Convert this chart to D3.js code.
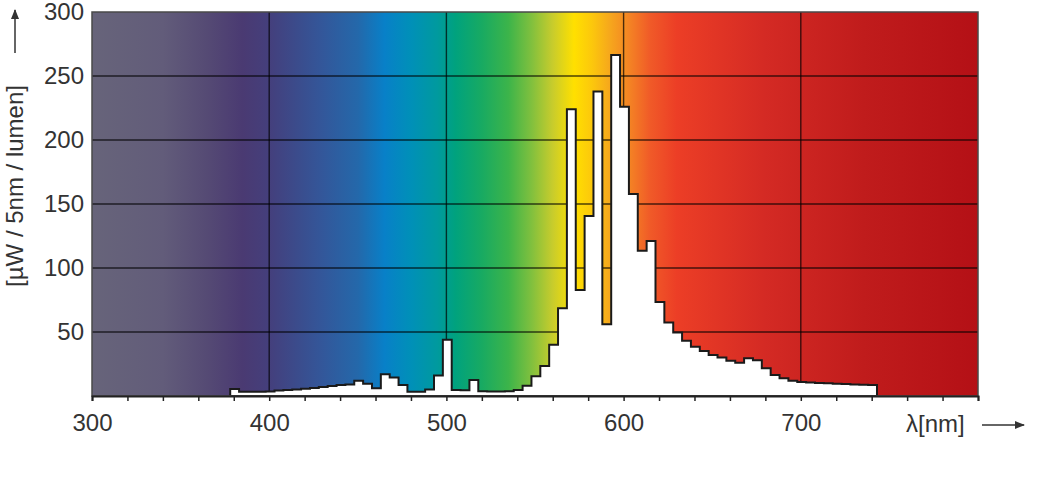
<!DOCTYPE html>
<html>
<head>
<meta charset="utf-8">
<script src="https://cdn.jsdelivr.net/npm/d3@7"></script>
<style>
  body { margin: 0; background: #fff; }
  text { font-family: "Liberation Sans", Arial, sans-serif; fill: #333; }
</style>
</head>
<body>
<div id="content"></div>
<script>
// 5 nm bins, start wavelength of each bin
let binStart = [378, 383, 388, 393, 398, 403, 408, 413, 418, 423,
                428, 433, 438, 443, 448, 453, 458, 463, 468, 473,
                478, 483, 488, 493, 498, 503, 508, 513, 518, 523,
                528, 533, 538, 543, 548, 553, 558, 563, 568, 573,
                578, 583, 588, 593, 598, 603, 608, 613, 618, 623,
                628, 633, 638, 643, 648, 653, 658, 663, 668, 673,
                678, 683, 688, 693, 698, 703, 708, 713, 718, 723,
                728, 733, 738];
let binWidth = 5;

// µW / 5nm / lumen
let power = [5.5, 3.4, 3.4, 3.4, 3.6, 4.2, 4.6, 5.0, 5.6, 6.2,
             7.0, 7.8, 8.6, 9.0, 12, 9.5, 6, 17, 14.5, 8.6,
             3.4, 3.4, 5, 16, 44, 4.7, 4.5, 12.5, 3.8, 3.6,
             3.6, 3.8, 4.7, 8, 15.5, 23.4, 40, 68.5, 224, 82.8,
             140.6, 237.8, 56, 266.4, 226, 157.8, 113.5, 121, 73.5, 57.5,
             49.6, 43.2, 38.5, 35.2, 32, 30, 27.6, 26, 29.4, 28,
             21.6, 16.4, 13.8, 12, 10.9, 10.5, 10.2, 9.9, 9.6, 9.3,
             9.0, 8.8, 8.6];

let xTicks = [300, 320, 340, 360, 380, 400, 420, 440, 460, 480,
              500, 520, 540, 560, 580, 600, 620, 640, 660, 680,
              700, 720, 740, 760, 780, 800];
let xLabels = [300, 400, 500, 600, 700];
let xGrid = [400, 500, 600, 700];
let yLabels = [50, 100, 150, 200, 250, 300];
let yGrid = [50, 100, 150, 200, 250];

// background colour of the visible spectrum
let spectrumStops = [
  [300, '#67647a'], [340, '#625c7a'], [365, '#554a74'], [385, '#4a3a72'],
  [400, '#443f7c'], [430, '#33579a'], [450, '#2468aa'], [465, '#0880c8'],
  [480, '#0090b8'], [495, '#009a9e'], [505, '#00a27e'], [520, '#18aa62'],
  [535, '#3cb44a'], [548, '#80c03e'], [560, '#c8cc2c'], [572, '#ffe000'],
  [582, '#fcc80c'], [592, '#f6a81c'], [603, '#f48424'], [615, '#f05a28'],
  [630, '#ec3e26'], [680, '#d42a24'], [735, '#c01c1c'], [800, '#b41016']
];

let width = 1040;
let height = 491;
let margin = {top: 12, right: 62, bottom: 95, left: 92};
let plotW = width - margin.left - margin.right;
let plotH = height - margin.top - margin.bottom;

let svg = d3.select('#content').append('svg')
            .attr('width', width)
            .attr('height', height);

let x = d3.scaleLinear().domain([300, 800]).range([margin.left, margin.left + plotW]);
let y = d3.scaleLinear().domain([0, 300]).range([margin.top + plotH, margin.top]);

let grad = svg.append('defs').append('linearGradient')
              .attr('id', 'spectrum')
              .attr('gradientUnits', 'userSpaceOnUse')
              .attr('x1', x(300)).attr('x2', x(800))
              .attr('y1', 0).attr('y2', 0);
grad.selectAll('stop').data(spectrumStops).enter().append('stop')
    .attr('offset', d => (d[0] - 300) / 500)
    .attr('stop-color', d => d[1]);

svg.append('rect')
   .attr('x', x(300)).attr('y', y(300))
   .attr('width', x(800) - x(300)).attr('height', y(0) - y(300))
   .style('fill', 'url(#spectrum)');

// grid
svg.selectAll('line.vgrid').data(xGrid).enter().append('line')
   .attr('class', 'vgrid')
   .attr('x1', d => x(d)).attr('x2', d => x(d))
   .attr('y1', y(300)).attr('y2', y(0))
   .style('stroke', '#000').style('stroke-opacity', 0.7).style('stroke-width', 1.4);
svg.selectAll('line.hgrid').data(yGrid).enter().append('line')
   .attr('class', 'hgrid')
   .attr('x1', x(300)).attr('x2', x(800))
   .attr('y1', d => y(d)).attr('y2', d => y(d))
   .style('stroke', '#000').style('stroke-opacity', 0.7).style('stroke-width', 1.4);

// histogram
let bins = binStart.map((s, i) => ({l: s, v: power[i]}));
bins.push({l: binStart[binStart.length - 1] + binWidth, v: power[power.length - 1]});
let area = d3.area()
             .x(d => x(d.l))
             .y0(y(0))
             .y1(d => y(d.v))
             .curve(d3.curveStepAfter);
svg.append('path')
   .datum(bins)
   .attr('d', area)
   .style('fill', '#fff')
   .style('stroke', '#1a1a1a')
   .style('stroke-width', 2)
   .style('stroke-linejoin', 'miter');

// frame
svg.append('rect')
   .attr('x', x(300)).attr('y', y(300))
   .attr('width', x(800) - x(300)).attr('height', y(0) - y(300))
   .style('fill', 'none').style('stroke', '#4a4a4a').style('stroke-width', 1.5);

// x axis
let xAxis = d3.axisBottom(x)
              .tickValues(xTicks)
              .tickSize(5)
              .tickPadding(13)
              .tickFormat(d => xLabels.includes(d) ? d : '');
let gx = svg.append('g')
            .attr('transform', `translate(0,${y(0)})`)
            .call(xAxis);
gx.select('.domain').style('stroke', '#222').style('stroke-width', 2);
gx.selectAll('.tick line').style('stroke', '#222').style('stroke-width', 1.5);
gx.selectAll('text').style('font-size', '24px').style('fill', '#333')
  .style('font-family', '"Liberation Sans", Arial, sans-serif');

// y axis
let yAxis = d3.axisLeft(y)
              .tickValues(yLabels)
              .tickSize(0)
              .tickPadding(8);
let gy = svg.append('g')
            .attr('transform', `translate(${x(300)},0)`)
            .call(yAxis);
gy.select('.domain').remove();
gy.selectAll('text').style('font-size', '24px').style('fill', '#333')
  .style('font-family', '"Liberation Sans", Arial, sans-serif');

// axis titles with arrows
let arrow = svg.select('defs').append('marker')
               .attr('id', 'arrowhead')
               .attr('viewBox', '0 0 10 10')
               .attr('refX', 9).attr('refY', 5)
               .attr('markerWidth', 10).attr('markerHeight', 10)
               .attr('markerUnits', 'userSpaceOnUse')
               .attr('orient', 'auto');
arrow.append('path').attr('d', 'M0,1 L10,5 L0,9 Z').style('fill', '#333');

svg.append('text')
   .attr('x', 906).attr('y', 432)
   .style('font-size', '24px')
   .text('λ[nm]');
svg.append('line')
   .attr('x1', 982).attr('x2', 1024)
   .attr('y1', 425).attr('y2', 425)
   .style('stroke', '#333').style('stroke-width', 1.5)
   .attr('marker-end', 'url(#arrowhead)');

svg.append('text')
   .attr('transform', 'translate(23,186) rotate(-90)')
   .attr('text-anchor', 'middle')
   .style('font-size', '24px')
   .text('[µW / 5nm / lumen]');
svg.append('line')
   .attr('x1', 15).attr('x2', 15)
   .attr('y1', 53).attr('y2', 10)
   .style('stroke', '#333').style('stroke-width', 1.5)
   .attr('marker-end', 'url(#arrowhead)');
</script>
</body>
</html>
